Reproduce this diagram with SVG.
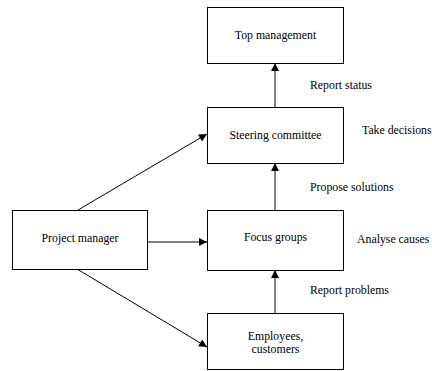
<svg xmlns="http://www.w3.org/2000/svg" width="432" height="371" viewBox="0 0 432 371">
<defs>
<marker id="ah" viewBox="0 0 10 10" refX="10" refY="5" markerWidth="9" markerHeight="8" markerUnits="userSpaceOnUse" orient="auto">
<path d="M0,0 L10,5 L0,10 Z" fill="#000"/>
</marker>
<style>
.box{fill:#fff;stroke:#000;stroke-width:1}
.t{font-size:11.8px;fill:#000}
.c{text-anchor:middle}
.ln{stroke:#000;stroke-width:1;fill:none;marker-end:url(#ah)}
</style>
</defs>
<rect width="432" height="371" fill="#fff"/>
<g id="connectors">
<line class="ln" x1="275" y1="107" x2="275" y2="63"/>
<line class="ln" x1="275" y1="210" x2="275" y2="163"/>
<line class="ln" x1="275" y1="313" x2="275" y2="270"/>
<line class="ln" x1="78" y1="210" x2="207" y2="134"/>
<line class="ln" x1="147" y1="242" x2="207" y2="242"/>
<line class="ln" x1="77" y1="269" x2="207" y2="347"/>
</g>
<g font-family="'Liberation Serif', 'DejaVu Serif', serif">
<g id="top-management">
<rect class="box" x="207.5" y="7.5" width="136" height="56"/>
<text class="t c" x="275.5" y="39">Top management</text>
</g>
<g id="steering-committee">
<rect class="box" x="207.5" y="107.5" width="136" height="56"/>
<text class="t c" x="275.5" y="139">Steering committee</text>
</g>
<g id="focus-groups">
<rect class="box" x="207.5" y="210.5" width="136" height="60"/>
<text class="t c" x="275.5" y="241">Focus groups</text>
</g>
<g id="employees">
<rect class="box" x="207.5" y="313.5" width="136" height="56"/>
<text class="t c" x="275.5" y="340">Employees,</text>
<text class="t c" x="275.5" y="353">customers</text>
</g>
<g id="project-manager">
<rect class="box" x="12.5" y="210.5" width="135" height="59"/>
<text class="t c" x="80" y="242">Project manager</text>
</g>
<g id="labels">
<text class="t" x="310" y="89">Report status</text>
<text class="t" x="362" y="134">Take decisions</text>
<text class="t" x="310" y="191">Propose solutions</text>
<text class="t" x="357" y="243">Analyse causes</text>
<text class="t" x="310" y="294">Report problems</text>
</g>
</g>
</svg>
